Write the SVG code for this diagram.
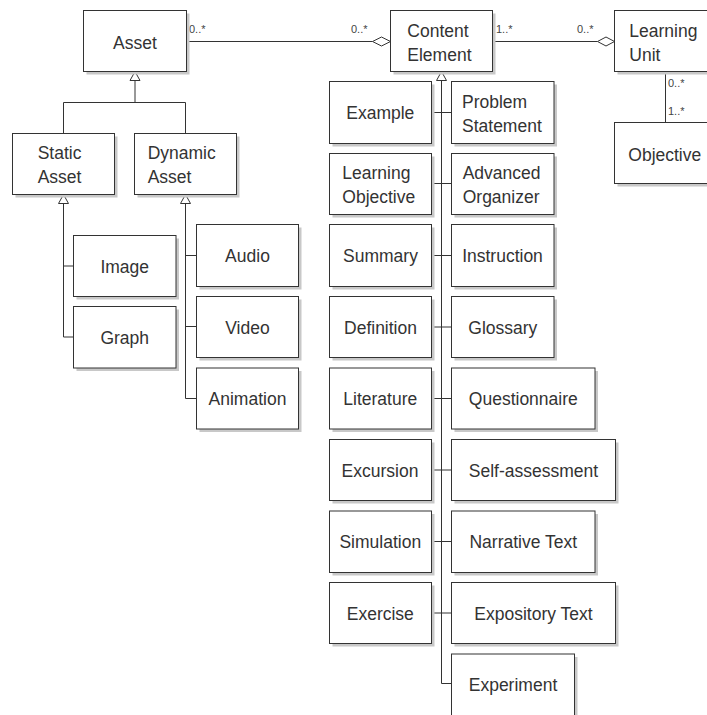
<svg xmlns="http://www.w3.org/2000/svg" width="707" height="715" viewBox="0 0 707 715">
<defs>
<style>
.sh{fill:#c8c8c8;stroke:none}
.bx{fill:#fff;stroke:#333;stroke-width:1}
.t{font-family:"Liberation Sans",Arial,sans-serif;font-size:17.5px;fill:#333}
.c{text-anchor:middle}
.m{font-family:"Liberation Sans",Arial,sans-serif;font-size:11px;fill:#444}
.ln{fill:none;stroke:#333;stroke-width:1}
.hd{fill:#fff;stroke:#333;stroke-width:1}
</style>
</defs>
<rect width="707" height="715" fill="#fff"/>

<g id="connectors">
<path class="ln" d="M186.5,41.5H372.5 M492.5,41.5H597.5 M665.5,71.5V122.5"/>
<path class="hd" d="M372.5,41.5L381.5,37L390.5,41.5L381.5,46Z"/>
<path class="hd" d="M597.5,41.5L606,37L614.5,41.5L606,46Z"/>
<path class="ln" d="M135,80.5V102.5 M63.5,102.5H185.5 M63.5,102.5V133.5 M185.5,102.5V133.5"/>
<path class="hd" d="M135,71.5L140,80.5H130Z"/>
<path class="ln" d="M63.5,203.5V337 M63.5,266H73.5 M63.5,337H73.5"/>
<path class="hd" d="M63.5,194.5L68.5,203.5H58.5Z"/>
<path class="ln" d="M185.5,203.5V398.5 M185.5,255.5H196.5 M185.5,326.5H196.5 M185.5,398.5H196.5"/>
<path class="hd" d="M185.5,194.5L190.5,203.5H180.5Z"/>
<path class="ln" d="M441.5,80.5V683.5H451.5 M431.5,112.5H451.5 M431.5,183.5H451.5 M431.5,255.5H451.5 M431.5,327H451.5 M431.5,398.5H451.5 M431.5,470H451.5 M431.5,541.5H451.5 M431.5,613H451.5"/>
<path class="hd" d="M441.5,71.5L446.5,80.5H436.5Z"/>
<text class="m" x="189" y="33">0..*</text>
<text class="m" x="351" y="33">0..*</text>
<text class="m" x="496" y="33">1..*</text>
<text class="m" x="577" y="33">0..*</text>
<text class="m" x="668" y="86.5">0..*</text>
<text class="m" x="668" y="115">1..*</text>
</g>

<g id="asset"><rect class="sh" x="86.5" y="13.5" width="103" height="61"/><rect class="bx" x="83.5" y="10.5" width="103" height="61"/><text class="t c" x="135" y="48.5">Asset</text></g>
<g id="static-asset"><rect class="sh" x="15.5" y="136.5" width="102" height="61"/><rect class="bx" x="12.5" y="133.5" width="102" height="61"/><text class="t" x="37.7" y="159.3">Static</text><text class="t" x="37.7" y="183.3">Asset</text></g>
<g id="dynamic-asset"><rect class="sh" x="137.5" y="136.5" width="102" height="61"/><rect class="bx" x="134.5" y="133.5" width="102" height="61"/><text class="t" x="147.7" y="159.3">Dynamic</text><text class="t" x="147.7" y="183.3">Asset</text></g>
<g id="image"><rect class="sh" x="76.5" y="238.5" width="102.5" height="61"/><rect class="bx" x="73.5" y="235.5" width="102.5" height="61"/><text class="t c" x="124.7" y="272.5">Image</text></g>
<g id="graph"><rect class="sh" x="76.5" y="309.5" width="102.5" height="61.5"/><rect class="bx" x="73.5" y="306.5" width="102.5" height="61.5"/><text class="t c" x="124.7" y="343.5">Graph</text></g>
<g id="audio"><rect class="sh" x="199.5" y="227.5" width="102" height="62"/><rect class="bx" x="196.5" y="224.5" width="102" height="62"/><text class="t c" x="247.5" y="262">Audio</text></g>
<g id="video"><rect class="sh" x="199.5" y="299.5" width="102" height="61"/><rect class="bx" x="196.5" y="296.5" width="102" height="61"/><text class="t c" x="247.5" y="333.5">Video</text></g>
<g id="animation"><rect class="sh" x="199.5" y="371" width="102" height="61"/><rect class="bx" x="196.5" y="368" width="102" height="61"/><text class="t c" x="247.5" y="405">Animation</text></g>

<g id="content-element"><rect class="sh" x="393.5" y="13.5" width="102" height="61"/><rect class="bx" x="390.5" y="10.5" width="102" height="61"/><text class="t" x="407.3" y="36.5">Content</text><text class="t" x="407.3" y="60.8">Element</text></g>
<g id="learning-unit"><rect class="sh" x="617.5" y="13.5" width="110" height="61"/><rect class="bx" x="614.5" y="10.5" width="110" height="61"/><text class="t" x="629.3" y="36.5">Learning</text><text class="t" x="629.3" y="60.8">Unit</text></g>
<g id="objective"><rect class="sh" x="617.5" y="125.5" width="110" height="61"/><rect class="bx" x="614.5" y="122.5" width="110" height="61"/><text class="t" x="628.3" y="160.5">Objective</text></g>

<g id="example"><rect class="sh" x="332.5" y="84.5" width="102" height="62"/><rect class="bx" x="329.5" y="81.5" width="102" height="62"/><text class="t c" x="380.3" y="119">Example</text></g>
<g id="problem-statement"><rect class="sh" x="454.5" y="84.5" width="102.5" height="62"/><rect class="bx" x="451.5" y="81.5" width="102.5" height="62"/><text class="t" x="462" y="107.8">Problem</text><text class="t" x="462" y="132">Statement</text></g>
<g id="learning-objective"><rect class="sh" x="332.5" y="156.5" width="102" height="61"/><rect class="bx" x="329.5" y="153.5" width="102" height="61"/><text class="t" x="342.3" y="179">Learning</text><text class="t" x="342.3" y="203.3">Objective</text></g>
<g id="advanced-organizer"><rect class="sh" x="454.5" y="156.5" width="102.5" height="61"/><rect class="bx" x="451.5" y="153.5" width="102.5" height="61"/><text class="t" x="462.7" y="179">Advanced</text><text class="t" x="462.7" y="203.3">Organizer</text></g>
<g id="summary"><rect class="sh" x="332.5" y="227.5" width="102" height="62"/><rect class="bx" x="329.5" y="224.5" width="102" height="62"/><text class="t c" x="380.5" y="262">Summary</text></g>
<g id="instruction"><rect class="sh" x="454.5" y="227.5" width="102.5" height="62"/><rect class="bx" x="451.5" y="224.5" width="102.5" height="62"/><text class="t c" x="502.5" y="262">Instruction</text></g>
<g id="definition"><rect class="sh" x="332.5" y="299.5" width="102" height="61"/><rect class="bx" x="329.5" y="296.5" width="102" height="61"/><text class="t c" x="380.5" y="333.5">Definition</text></g>
<g id="glossary"><rect class="sh" x="454.5" y="299.5" width="102.5" height="61"/><rect class="bx" x="451.5" y="296.5" width="102.5" height="61"/><text class="t c" x="502.8" y="333.5">Glossary</text></g>
<g id="literature"><rect class="sh" x="332.5" y="371" width="102" height="61"/><rect class="bx" x="329.5" y="368" width="102" height="61"/><text class="t c" x="380.3" y="405">Literature</text></g>
<g id="questionnaire"><rect class="sh" x="454.5" y="371" width="143.5" height="61"/><rect class="bx" x="451.5" y="368" width="143.5" height="61"/><text class="t c" x="523.3" y="405">Questionnaire</text></g>
<g id="excursion"><rect class="sh" x="332.5" y="442.5" width="102" height="61"/><rect class="bx" x="329.5" y="439.5" width="102" height="61"/><text class="t c" x="380" y="476.5">Excursion</text></g>
<g id="self-assessment"><rect class="sh" x="454.5" y="442.5" width="164" height="61"/><rect class="bx" x="451.5" y="439.5" width="164" height="61"/><text class="t c" x="533.5" y="476.5">Self-assessment</text></g>
<g id="simulation"><rect class="sh" x="332.5" y="514" width="102" height="61.5"/><rect class="bx" x="329.5" y="511" width="102" height="61.5"/><text class="t c" x="380.3" y="548">Simulation</text></g>
<g id="narrative-text"><rect class="sh" x="454.5" y="514" width="143.5" height="61.5"/><rect class="bx" x="451.5" y="511" width="143.5" height="61.5"/><text class="t c" x="523.3" y="548">Narrative Text</text></g>
<g id="exercise"><rect class="sh" x="332.5" y="585.5" width="102" height="61"/><rect class="bx" x="329.5" y="582.5" width="102" height="61"/><text class="t c" x="380.3" y="619.5">Exercise</text></g>
<g id="expository-text"><rect class="sh" x="454.5" y="585.5" width="164" height="61"/><rect class="bx" x="451.5" y="582.5" width="164" height="61"/><text class="t c" x="533.5" y="619.5">Expository Text</text></g>
<g id="experiment"><rect class="sh" x="454.5" y="657" width="123" height="70"/><rect class="bx" x="451.5" y="654" width="123" height="70"/><text class="t c" x="513" y="690.5">Experiment</text></g>
</svg>
